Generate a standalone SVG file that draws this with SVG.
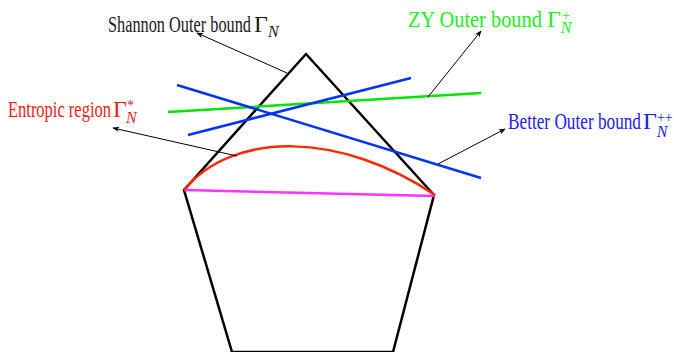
<svg xmlns="http://www.w3.org/2000/svg" width="674" height="352" viewBox="0 0 674 352">
<style>
text{font-family:"Liberation Serif","DejaVu Serif",serif;font-size:24px}
.sub{font-size:16px;font-style:italic}
.sup{font-size:14px}
.ptr{stroke:#000;stroke-width:1;fill:none;marker-end:url(#ah)}
</style>
<defs>
<marker id="ah" viewBox="0 0 10 10" refX="9" refY="5" markerWidth="7" markerHeight="7" markerUnits="userSpaceOnUse" orient="auto">
<path d="M0,1 L10,5 L0,9 L3,5 Z" fill="#000"/>
</marker>
</defs>
<rect width="674" height="352" fill="#fff"/>
<g id="pentagon">
<polygon points="306,54 434,195 393,352 232,352 184,190" fill="none" stroke="#000" stroke-width="2.5" stroke-linejoin="miter"/>
</g>
<g id="bounds">
<line x1="168" y1="112" x2="481" y2="93" stroke="#00e600" stroke-width="2.5"/>
<line x1="177" y1="85" x2="481" y2="178" stroke="#0033ff" stroke-width="2.5"/>
<line x1="188" y1="135" x2="411" y2="78" stroke="#0033ff" stroke-width="2.5"/>
<line x1="184" y1="190" x2="435" y2="196" stroke="#ff33ff" stroke-width="2.5"/>
<path d="M184,190 C233,130 342,132 435,195" fill="none" stroke="#ff2a00" stroke-width="2.5"/>
</g>
<g id="connectors">
<line class="ptr" x1="287" y1="73" x2="197" y2="33"/>
<line class="ptr" x1="428" y1="97" x2="481" y2="31"/>
<line class="ptr" x1="237" y1="156" x2="113" y2="128"/>
<line class="ptr" x1="438" y1="164" x2="505" y2="129"/>
</g>
<g id="label-shannon" fill="#1a1a1a">
<text transform="translate(108,31.5) scale(0.72,1)" x="0" y="0" textLength="198.6" lengthAdjust="spacingAndGlyphs">Shannon Outer bound</text>
<text x="254" y="31.5">Γ<tspan class="sub" dy="5.5" dx="0">N</tspan></text>
</g>
<g id="label-zy" fill="#22ee22">
<text transform="translate(408,27) scale(0.72,1)" x="0" y="0" textLength="186" lengthAdjust="spacingAndGlyphs">ZY Outer bound</text>
<text x="547" y="27">Γ<tspan class="sup" dx="1" dy="-7">+</tspan><tspan class="sub" dx="-9" dy="13">N</tspan></text>
</g>
<g id="label-entropic" fill="#ee2222">
<text transform="translate(8,116.5) scale(0.72,1)" x="0" y="0" textLength="143" lengthAdjust="spacingAndGlyphs">Entropic region</text>
<text x="113" y="116.5">Γ<tspan class="sup" dx="0" dy="-7">*</tspan><tspan class="sub" dx="-8" dy="13.5">N</tspan></text>
</g>
<g id="label-better" fill="#2222ee">
<text transform="translate(508,129) scale(0.72,1)" x="0" y="0" textLength="184.7" lengthAdjust="spacingAndGlyphs">Better Outer bound</text>
<text x="643" y="129">Γ<tspan class="sup" dx="0" dy="-7">++</tspan><tspan class="sub" dx="-16" dy="15">N</tspan></text>
</g>
</svg>
